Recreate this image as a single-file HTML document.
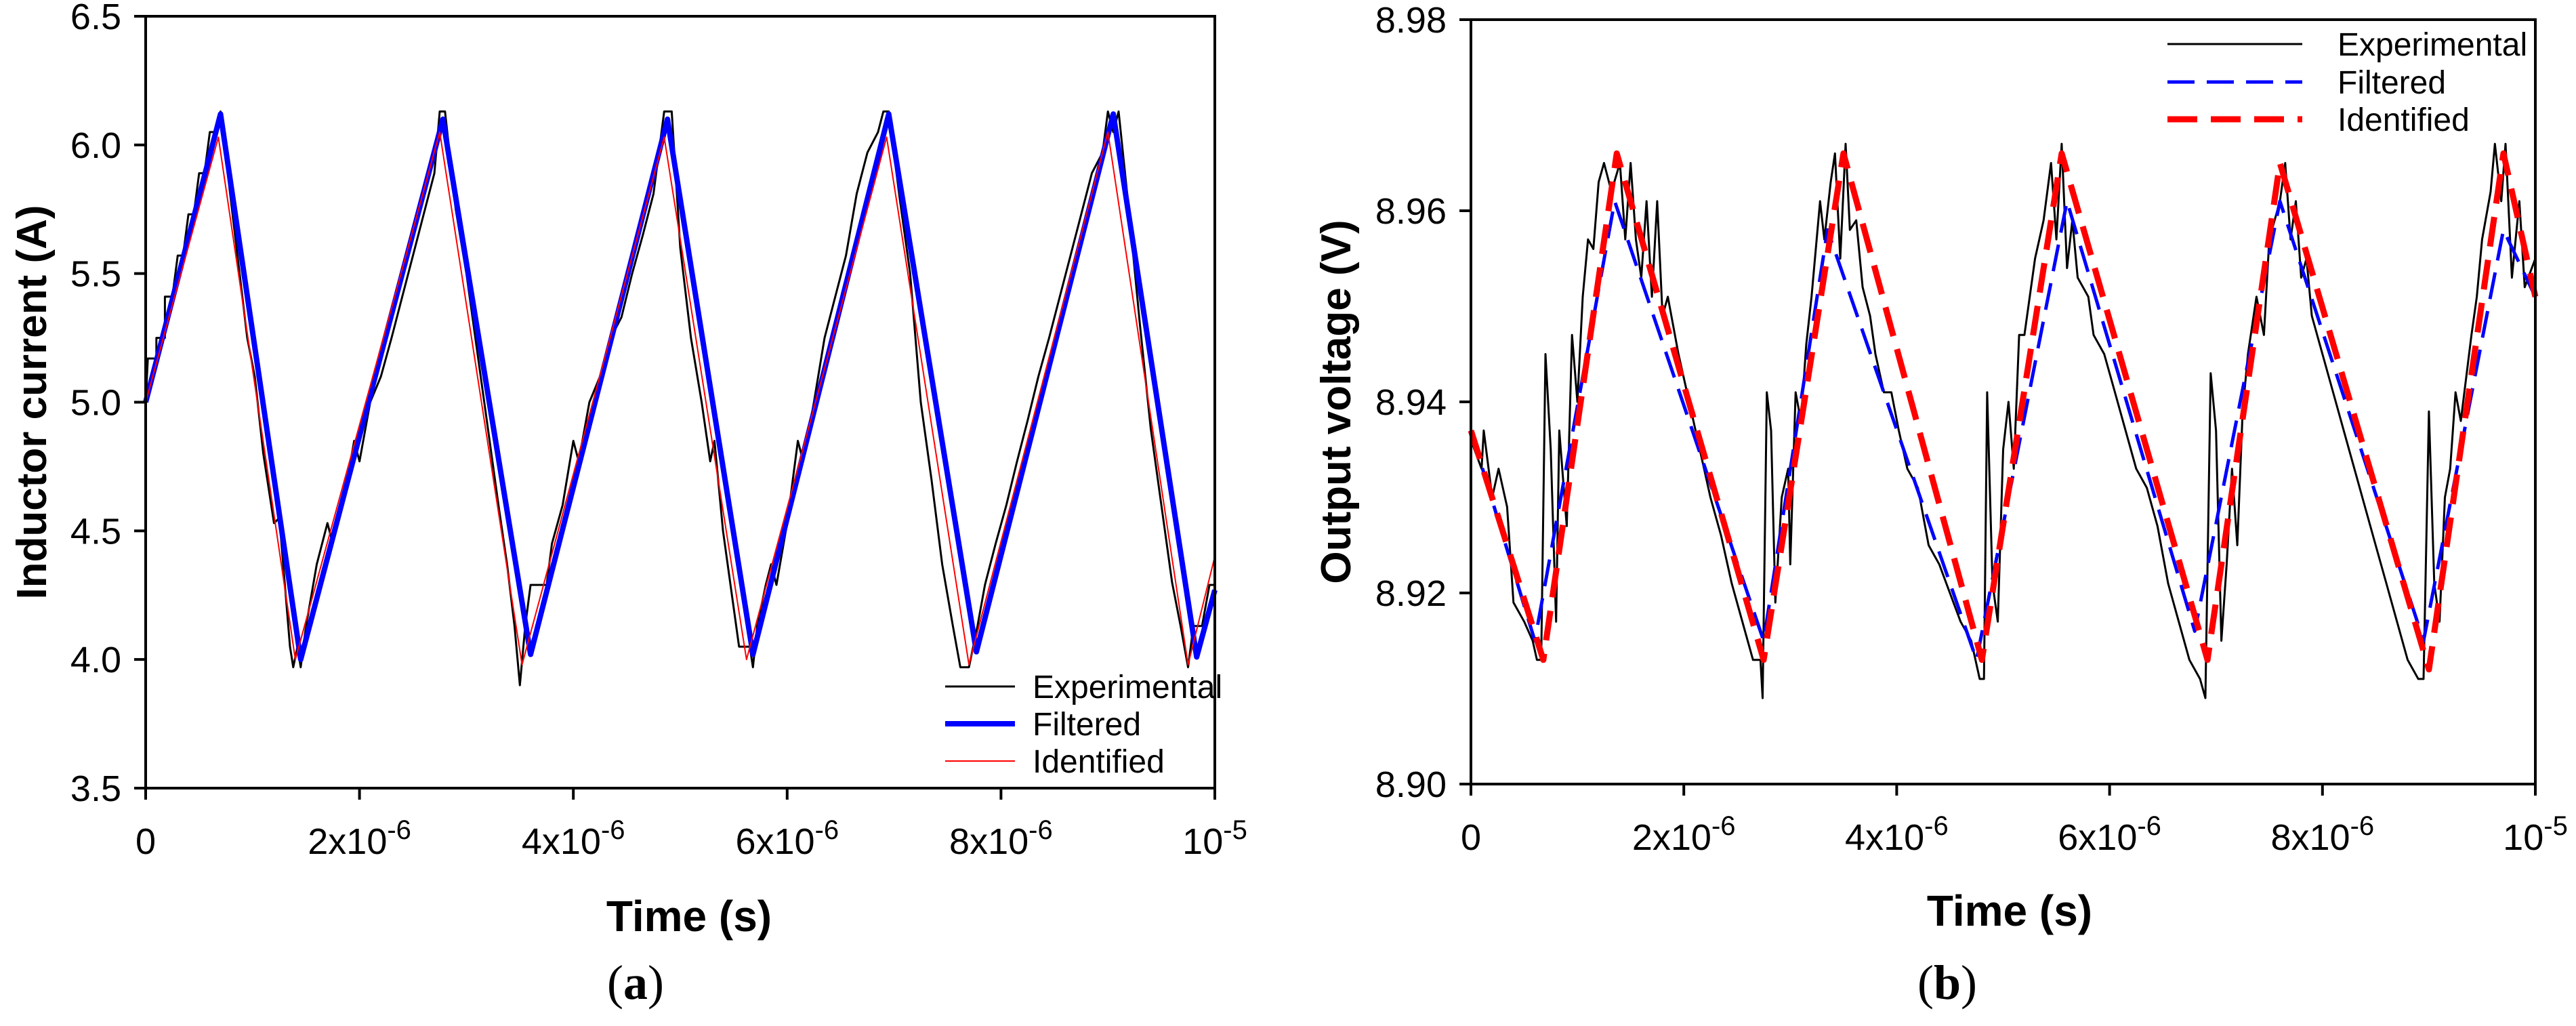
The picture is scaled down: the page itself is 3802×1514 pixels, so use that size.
<!DOCTYPE html>
<html><head><meta charset="utf-8"><style>
html,body{margin:0;padding:0;background:#fff}
svg{display:block}
text{font-family:"Liberation Sans",Arial,sans-serif}
</style></head><body>
<svg id="fig" width="3802" height="1514" viewBox="0 0 3802 1514" xmlns="http://www.w3.org/2000/svg"></svg>
<script>
// ---- Chart (a) data (time in microseconds) ----
const aExpT=[0,0.02,0.1,0.1,0.18,0.18,0.25,0.3,0.35,0.4,0.45,0.5,0.55,0.6,0.65,0.7,0.75,0.85,0.95,1.02,1.1,1.2,1.25,1.35,1.38,1.42,1.45,1.5,1.6,1.7,1.75,1.85,1.95,2.0,2.1,2.2,2.3,2.4,2.5,2.6,2.7,2.75,2.8,2.9,3.0,3.1,3.2,3.3,3.38,3.45,3.5,3.55,3.6,3.75,3.8,3.9,4.0,4.05,4.15,4.25,4.35,4.45,4.55,4.65,4.75,4.85,4.92,5.0,5.1,5.2,5.28,5.32,5.4,5.5,5.55,5.65,5.68,5.72,5.8,5.85,5.9,6.0,6.1,6.15,6.25,6.35,6.45,6.55,6.65,6.75,6.85,6.9,6.95,7.05,7.15,7.25,7.35,7.45,7.55,7.62,7.7,7.78,7.85,7.95,8.05,8.15,8.25,8.35,8.45,8.55,8.65,8.75,8.85,8.95,9.0,9.05,9.1,9.2,9.3,9.4,9.5,9.6,9.68,9.75,9.8,9.88,9.95,10.0];
const aExpV=[5.0,5.17,5.17,5.25,5.25,5.41,5.41,5.57,5.57,5.73,5.73,5.89,5.89,6.05,6.05,6.13,5.95,5.6,5.25,5.1,4.8,4.53,4.55,4.05,3.97,4.05,3.97,4.13,4.37,4.53,4.45,4.61,4.85,4.77,5.0,5.1,5.25,5.41,5.57,5.73,5.89,6.13,6.13,5.75,5.5,5.2,4.9,4.6,4.37,4.13,3.9,4.13,4.29,4.29,4.45,4.6,4.85,4.77,5.0,5.1,5.25,5.33,5.5,5.65,5.81,6.13,6.13,5.6,5.25,5.0,4.77,4.85,4.5,4.2,4.05,4.05,3.97,4.13,4.29,4.37,4.29,4.53,4.85,4.77,5.0,5.25,5.41,5.57,5.81,5.97,6.05,6.13,6.13,5.8,5.5,5.0,4.7,4.37,4.13,3.97,3.97,4.13,4.29,4.45,4.6,4.77,4.93,5.1,5.25,5.41,5.57,5.73,5.89,5.97,6.13,6.05,6.13,5.73,5.3,4.9,4.6,4.3,4.13,3.97,4.13,4.13,4.29,4.29];
const aFilT=[0,0.7,1.45,2.78,3.6,4.88,5.68,6.95,7.77,9.05,9.83,10];
const aFilV=[5.0,6.12,4.0,6.1,4.02,6.1,4.02,6.12,4.03,6.12,4.01,4.27];
const aIdT=[0,0.68,1.4,2.75,3.52,4.85,5.62,6.93,7.7,9.0,9.75,10];
const aIdV=[5.0,6.03,4.0,6.05,3.98,6.03,4.0,6.03,3.98,6.05,3.98,4.4];
const aYTicks=[3.5,4.0,4.5,5.0,5.5,6.0,6.5];
const aYLabels=["3.5","4.0","4.5","5.0","5.5","6.0","6.5"];
// ---- Chart (b) data ----
const bExpT=[0,0.1,0.12,0.2,0.26,0.34,0.4,0.5,0.58,0.62,0.66,0.7,0.75,0.8,0.83,0.9,0.95,1.0,1.05,1.1,1.15,1.2,1.25,1.32,1.4,1.45,1.5,1.55,1.6,1.65,1.7,1.75,1.8,1.85,1.95,2.05,2.15,2.25,2.35,2.45,2.55,2.65,2.72,2.74,2.78,2.82,2.86,2.92,2.98,3.0,3.05,3.1,3.15,3.2,3.28,3.32,3.38,3.42,3.47,3.52,3.56,3.62,3.68,3.75,3.8,3.88,3.95,4.02,4.1,4.2,4.3,4.4,4.5,4.6,4.7,4.78,4.82,4.85,4.9,4.95,5.0,5.05,5.1,5.15,5.2,5.3,5.38,5.45,5.5,5.55,5.6,5.65,5.7,5.8,5.85,5.95,6.05,6.15,6.25,6.35,6.45,6.55,6.65,6.75,6.85,6.9,6.95,7.0,7.05,7.1,7.15,7.2,7.25,7.3,7.38,7.45,7.5,7.6,7.65,7.7,7.75,7.8,7.85,7.9,8.0,8.1,8.2,8.3,8.4,8.5,8.6,8.7,8.8,8.9,8.95,9.0,9.05,9.1,9.15,9.2,9.25,9.3,9.4,9.45,9.5,9.58,9.62,9.68,9.72,9.78,9.85,9.9,10.0];
const bExpV=[8.936,8.933,8.937,8.930,8.933,8.929,8.919,8.917,8.915,8.913,8.913,8.945,8.935,8.917,8.937,8.927,8.947,8.940,8.951,8.957,8.956,8.963,8.965,8.962,8.965,8.957,8.965,8.957,8.953,8.961,8.951,8.961,8.949,8.951,8.945,8.940,8.935,8.930,8.926,8.921,8.917,8.913,8.913,8.909,8.941,8.937,8.919,8.930,8.933,8.923,8.941,8.938,8.946,8.951,8.961,8.957,8.963,8.966,8.955,8.967,8.958,8.959,8.952,8.949,8.945,8.941,8.941,8.937,8.933,8.931,8.925,8.923,8.920,8.917,8.915,8.911,8.911,8.941,8.921,8.917,8.935,8.940,8.933,8.947,8.947,8.955,8.959,8.965,8.957,8.967,8.954,8.959,8.953,8.951,8.947,8.945,8.941,8.937,8.933,8.931,8.927,8.921,8.917,8.913,8.911,8.909,8.943,8.937,8.915,8.923,8.933,8.925,8.939,8.945,8.951,8.947,8.957,8.961,8.965,8.957,8.961,8.953,8.955,8.949,8.945,8.941,8.937,8.933,8.929,8.925,8.921,8.917,8.913,8.911,8.911,8.939,8.921,8.917,8.930,8.933,8.941,8.938,8.947,8.951,8.957,8.962,8.967,8.961,8.967,8.953,8.961,8.952,8.955];
const bFilT=[0,0.6,1.35,2.75,3.35,4.75,5.6,6.8,7.6,8.95,9.7,10];
const bFilV=[8.937,8.915,8.961,8.915,8.958,8.913,8.961,8.916,8.961,8.915,8.958,8.951];
const bIdT=[0,0.68,1.37,2.75,3.5,4.8,5.55,6.92,7.6,9.0,9.7,10];
const bIdV=[8.937,8.913,8.966,8.913,8.966,8.913,8.966,8.913,8.965,8.912,8.966,8.951];
const bYTicks=[8.90,8.92,8.94,8.96,8.98];
const bYLabels=["8.90","8.92","8.94","8.96","8.98"];
const xTicks=[0,2,4,6,8,10];
const xBase=["0","2x10","4x10","6x10","8x10","10"];
const xExp=["","-6","-6","-6","-6","-5"];

const NS="http://www.w3.org/2000/svg";
const svg=document.getElementById('fig');
function mk(tag,attrs,parent){const e=document.createElementNS(NS,tag);for(const k in attrs)e.setAttribute(k,attrs[k]);(parent||svg).appendChild(e);return e;}

function drawChart(c){
  const g=mk('g',{});
  
  
  const sx=t=>c.x0+(t-0)/(10-0)*(c.x1-c.x0);
  const sy=v=>c.y1-(v-c.ymin)/(c.ymax-c.ymin)*(c.y1-c.y0);
  c.series.forEach(s=>{
    const d=s.t.map((t,i)=>(i?'L':'M')+sx(t).toFixed(1)+','+sy(s.v[i]).toFixed(1)).join('');
    const p=mk('path',{d:d,fill:'none',stroke:s.color,'stroke-width':s.w,'stroke-linejoin':'round','stroke-dasharray':s.dash||'none'},g);
    
    
  });
  const fr=mk('rect',{x:c.x0,y:c.y0,width:c.x1-c.x0,height:c.y1-c.y0,fill:'none',stroke:'#000','stroke-width':4},g);
  
  
  c.yTicks.forEach((v,i)=>{
    mk('line',{x1:c.x0-17,x2:c.x0,y1:sy(v),y2:sy(v),stroke:'#000','stroke-width':4},g);
    const t=mk('text',{x:c.x0-36,y:sy(v)+19,'text-anchor':'end','font-size':54},g);
    t.textContent=c.yLabels[i];
    
    
  });
  xTicks.forEach((v,i)=>{
    mk('line',{x1:sx(v),x2:sx(v),y1:c.y1,y2:c.y1+17,stroke:'#000','stroke-width':4},g);
    const t=mk('text',{x:sx(v),y:c.y1+97,'text-anchor':'middle','font-size':54},g);
    t.textContent=xBase[i];
    if(xExp[i]){const ts=mk('tspan',{dy:-22,'font-size':40},t);ts.textContent=xExp[i];}
    
    
  });
  const yt=mk('text',{x:0,y:0,'text-anchor':'middle','font-size':62,'font-weight':'bold',transform:`translate(${c.ytx},${(c.y0+c.y1)/2}) rotate(-90)`},g);
  yt.textContent=c.ytitle;
  
  
  const xt=mk('text',{x:c.xtx,y:c.xty,'text-anchor':'middle','font-size':64,'font-weight':'bold'},g);
  xt.textContent='Time (s)';
  
  
  const lab=mk('text',{x:c.labx,y:1474,'text-anchor':'middle','font-size':72},g);
  lab.setAttribute('style','font-family:"Liberation Serif",serif');
  lab.textContent='(';
  const b=mk('tspan',{'font-weight':'bold'},lab);b.textContent=c.letter;
  const cl=mk('tspan',{},lab);cl.textContent=')';
  
  
  c.series.forEach((s,i)=>{
    const y=c.legY[i];
    const l=mk('line',{x1:c.legX0,x2:c.legX1,y1:y,y2:y,stroke:s.color,'stroke-width':s.w,'stroke-dasharray':s.dash||'none'},g);
    
    
    const t=mk('text',{x:c.legTx,y:y+17,'font-size':48},g);
    t.textContent=s.label;
    
    
  });
}

drawChart({name:'chart-a-inductor-current',x0:215,x1:1793,y0:24,y1:1163,ymin:3.5,ymax:6.5,
  yTicks:aYTicks,yLabels:aYLabels,ytitle:'Inductor current (A)',ytx:68,xtx:1017,xty:1374,labx:938,letter:'a',
  legX0:1395,legX1:1498,legTx:1524,legY:[1013,1068,1123],
  series:[
    {key:'experimental-line',label:'Experimental',t:aExpT,v:aExpV,color:'#000',w:3},
    {key:'filtered-line',label:'Filtered',t:aFilT,v:aFilV,color:'#0000ff',w:8},
    {key:'identified-line',label:'Identified',t:aIdT,v:aIdV,color:'#ff0000',w:2}
  ]});
drawChart({name:'chart-b-output-voltage',x0:2171,x1:3742,y0:29,y1:1157,ymin:8.90,ymax:8.98,
  yTicks:bYTicks,yLabels:bYLabels,ytitle:'Output voltage (V)',ytx:1993,xtx:2966,xty:1366,labx:2874,letter:'b',
  legX0:3199,legX1:3398,legTx:3450,legY:[65,121,176],
  series:[
    {key:'experimental-line',label:'Experimental',t:bExpT,v:bExpV,color:'#000',w:3},
    {key:'filtered-line',label:'Filtered',t:bFilT,v:bFilV,color:'#0000ff',w:5,dash:'40 18'},
    {key:'identified-line',label:'Identified',t:bIdT,v:bIdV,color:'#ff0000',w:9,dash:'44 20'}
  ]});
</script>
</body></html>
